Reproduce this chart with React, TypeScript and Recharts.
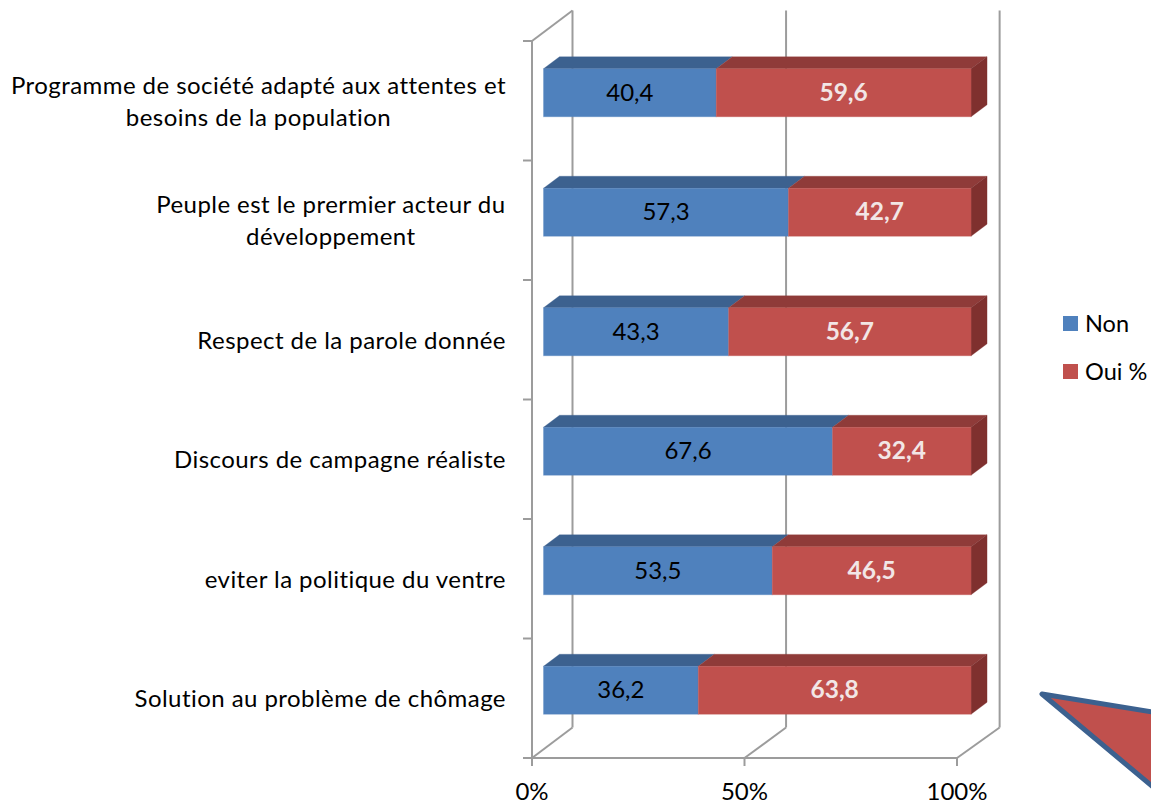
import { BarChart, Bar, XAxis, YAxis, Legend, LabelList, CartesianGrid } from 'recharts'

const categories = [
  'Programme de société adapté aux attentes et|besoins de la population',
  'Peuple est le prermier acteur du|développement',
  'Respect de la parole donnée',
  'Discours de campagne réaliste',
  'eviter la politique du ventre',
  'Solution au problème de chômage',
]
const nonValues = [40.4, 57.3, 43.3, 67.6, 53.5, 36.2]
const ouiValues = [59.6, 42.7, 56.7, 32.4, 46.5, 63.8]
const xTicks = [0, 50, 100]

const data = categories.map((name, i) => ({ name, non: nonValues[i], oui: ouiValues[i] }))

const FONT = 'Lato, sans-serif'
const TEXT_SIZE = 24
const SPACING = 0.45
const GREY = '#9c9c9c'
const PLOT = { left: 532, right: 957, top: 41, bottom: 758 }
const BAND = (PLOT.bottom - PLOT.top) / categories.length
// the back wall of the fake 3d box, and the depth of the bars
const WALL_DY = -30.5
const DEPTH = { dx: 16, dy: -12 }

const backX = (x: number) => 572.5 + (x - PLOT.left) * 1.005
// bars sit in front of the axis plane, slightly wider than it
const barX = (x: number) => 543.5 + (x - PLOT.left) * 1.006
const barY = (y: number) => y - 8.25

const ctx = document.createElement('canvas').getContext('2d')!
ctx.font = `${TEXT_SIZE}px ${FONT}`
;(ctx as any).letterSpacing = `${SPACING}px`

function CategoryTick({ y, payload }: any) {
  const lines: string[] = payload.value.split('|')
  const right = 506
  const blockWidth = ctx.measureText(lines[0]).width
  const textProps = { fontFamily: FONT, fontSize: TEXT_SIZE, letterSpacing: SPACING, fill: '#000' }
  return (
    <g>
      <line x1={PLOT.left - 9} x2={PLOT.left} y1={y - BAND / 2} y2={y - BAND / 2} stroke={GREY} strokeWidth={2} />
      {payload.index === categories.length - 1 && (
        <line x1={PLOT.left - 9} x2={PLOT.left} y1={y + BAND / 2} y2={y + BAND / 2} stroke={GREY} strokeWidth={2} />
      )}
      {lines.length === 1 ? (
        <text x={right} y={y + 9} textAnchor="end" {...textProps}>
          {lines[0]}
        </text>
      ) : (
        lines.map((line, i) => (
          <text key={line} x={right - blockWidth / 2} y={y - 7 + i * 32} textAnchor="middle" {...textProps}>
            {line}
          </text>
        ))
      )}
    </g>
  )
}

function WallTick({ x, payload }: any) {
  return (
    <g>
      <line x1={x} x2={x} y1={PLOT.bottom} y2={PLOT.bottom + 8} stroke={GREY} strokeWidth={2} />
      <text x={x} y={800} textAnchor="middle" fontFamily={FONT} fontSize={TEXT_SIZE} fill="#000">
        {payload.value}%
      </text>
    </g>
  )
}

// grid is the only thing painted under the bars, so the walls live here
function WallLine({ x1, index }: any) {
  const bx = backX(x1)
  const backTop = PLOT.top + WALL_DY
  const backBottom = PLOT.bottom + WALL_DY
  return (
    <g key={index}>
      <line x1={x1} y1={PLOT.bottom} x2={bx} y2={backBottom} stroke={GREY} strokeWidth={2} />
      <line x1={bx} x2={bx} y1={backTop} y2={backBottom} stroke={GREY} strokeWidth={2} />
      {x1 === PLOT.left && <line x1={x1} y1={PLOT.top} x2={bx} y2={backTop} stroke={GREY} strokeWidth={2} />}
    </g>
  )
}

function box3d(front: string, top: string, side: string | null) {
  return (props: any) => {
    const x = barX(props.x)
    const w = barX(props.x + props.width) - x
    const y = barY(props.y)
    const h = props.height
    const { dx, dy } = DEPTH
    return (
      <g strokeOpacity={0.3} strokeWidth={1}>
        <polygon
          points={`${x},${y} ${x + dx},${y + dy} ${x + w + dx},${y + dy} ${x + w},${y}`}
          fill={top}
          stroke={top}
        />
        {side && (
          <polygon
            points={`${x + w},${y} ${x + w + dx},${y + dy} ${x + w + dx},${y + h + dy} ${x + w},${y + h}`}
            fill={side}
            stroke={side}
          />
        )}
        <rect x={x} y={y} width={w} height={h} fill={front} stroke={front} />
      </g>
    )
  }
}

function valueLabel(color: string, weight: number, size: number) {
  return (props: any) => {
    const x = barX(props.x)
    const w = barX(props.x + props.width) - x
    return (
      <text
        x={x + w / 2}
        y={barY(props.y) + props.height / 2 + 8}
        textAnchor="middle"
        fontFamily={FONT}
        fontSize={size}
        fontWeight={weight}
        fill={color}
      >
        {String(props.value).replace('.', ',')}
      </text>
    )
  }
}

function LegendBox({ payload }: any) {
  return (
    <div style={{ fontFamily: FONT, fontSize: 23.5, color: '#000' }}>
      {payload.map((p: any) => (
        <div key={p.value} style={{ display: 'flex', alignItems: 'center', height: 48 }}>
          <span style={{ width: 15, height: 15, background: p.color, marginRight: 7 }} />
          {p.value}
        </div>
      ))}
    </div>
  )
}

export default function App() {
  return (
    <div style={{ position: 'absolute', left: 0, top: 0, width: 1151, height: 804, overflow: 'hidden' }}>
      <BarChart
        width={1151}
        height={804}
        layout="vertical"
        data={data}
        barSize={48}
        margin={{ top: PLOT.top, right: 1151 - PLOT.right, bottom: 0, left: 0 }}
      >
        <CartesianGrid horizontal={false} vertical={WallLine} verticalValues={xTicks} />
        <XAxis
          type="number"
          domain={[0, 100]}
          ticks={xTicks}
          interval={0}
          height={804 - PLOT.bottom}
          tick={WallTick}
          tickLine={false}
          axisLine={{ stroke: GREY, strokeWidth: 2 }}
        />
        <YAxis
          type="category"
          dataKey="name"
          width={PLOT.left}
          interval={0}
          tick={CategoryTick}
          tickLine={false}
          axisLine={{ stroke: GREY, strokeWidth: 2 }}
        />
        <Legend
          layout="horizontal"
          verticalAlign="middle"
          content={LegendBox}
          wrapperStyle={{ position: 'absolute', left: 1063, top: 299, width: 88, margin: 0 }}
        />
        <Bar
          dataKey="non"
          name="Non"
          stackId="a"
          fill="#4f81bd"
          isAnimationActive={false}
          shape={box3d('#4f81bd', '#3c618f', null)}
        >
          <LabelList dataKey="non" content={valueLabel('#000', 400, 24)} />
        </Bar>
        <Bar
          dataKey="oui"
          name="Oui %"
          stackId="a"
          fill="#c0504d"
          isAnimationActive={false}
          shape={box3d('#c0504d', '#8f3b39', '#7f302e')}
        >
          <LabelList dataKey="oui" content={valueLabel('#f2e6e6', 700, 24.5)} />
        </Bar>
        <polygon
          points="1042,694 1165,714 1165,797"
          fill="#c0504d"
          stroke="#3c618f"
          strokeWidth={5}
          strokeLinejoin="round"
        />
      </BarChart>
    </div>
  )
}
